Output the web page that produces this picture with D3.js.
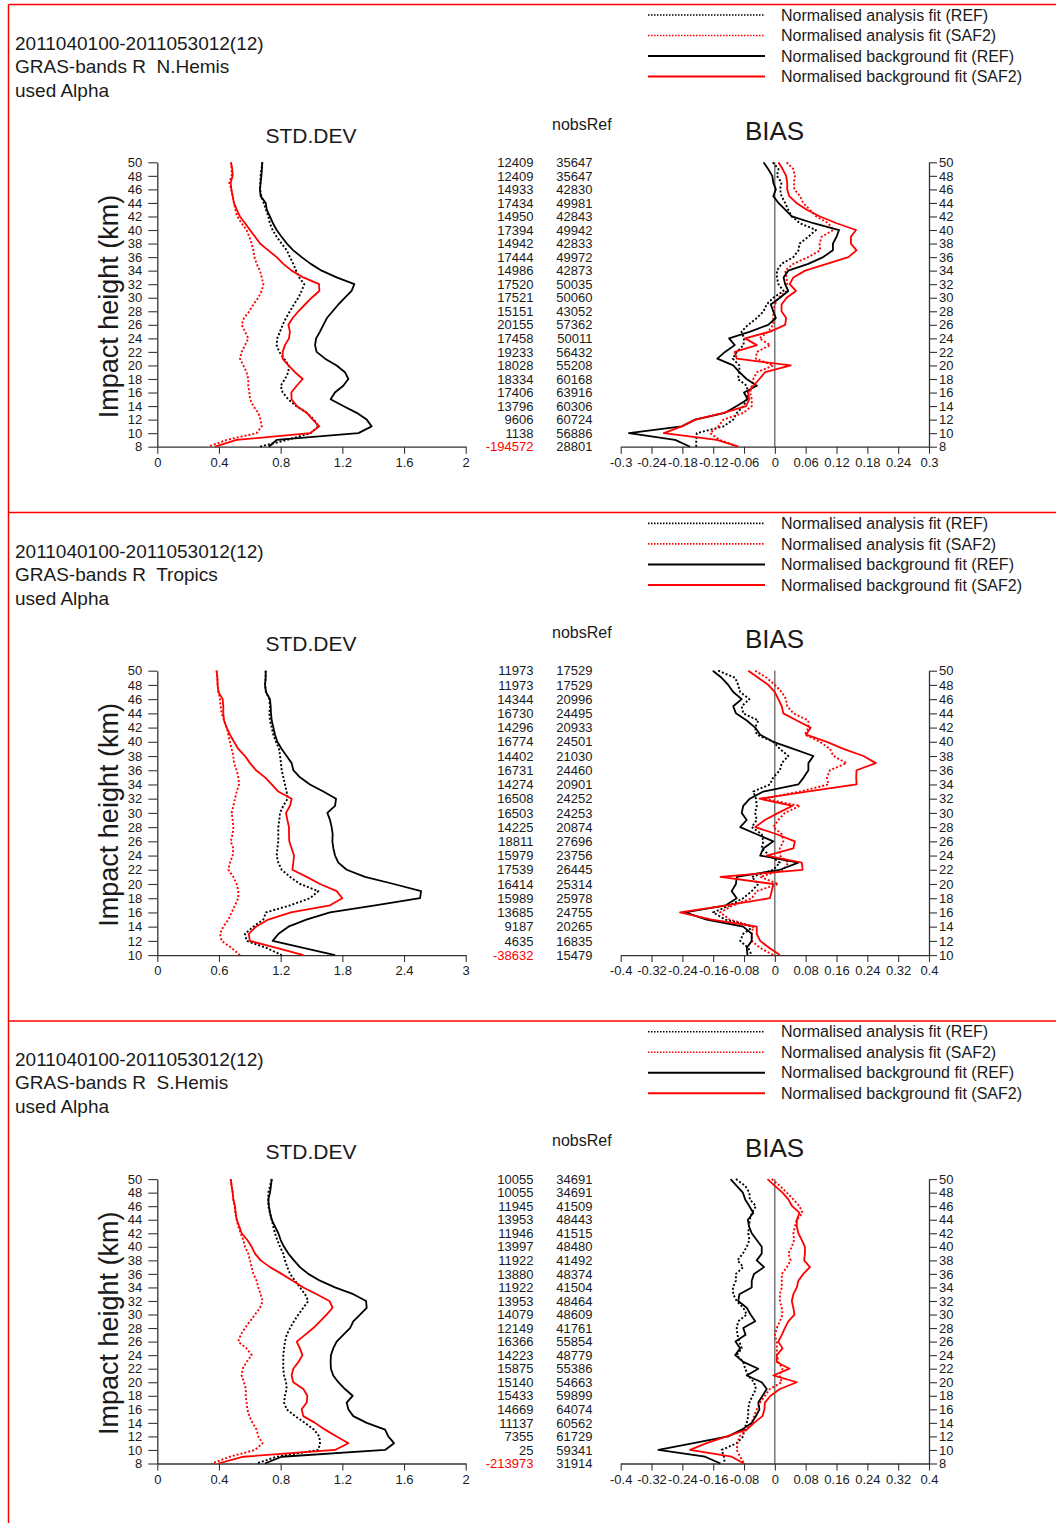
<!DOCTYPE html>
<html>
<head>
<meta charset="utf-8">
<script src="https://cdn.jsdelivr.net/npm/d3@7"></script>
<style>
  body { margin: 0; background: #fff; }
  svg { display: block; font-family: "Liberation Sans", Arial, Helvetica, sans-serif; }
</style>
</head>
<body>
<svg id="chart" width="1056" height="1523"></svg>
<script>
// ---------------------------------------------------------------
// Period, product and legend text
// ---------------------------------------------------------------
const periodLabel = "2011040100-2011053012(12)";
const productLabel = "GRAS-bands R";
const usedLabel = "used Alpha";
const regionNames = ["N.Hemis", "Tropics", "S.Hemis"];
const seriesNames = [
  "Normalised analysis fit (REF)",
  "Normalised analysis fit (SAF2)",
  "Normalised background fit (REF)",
  "Normalised background fit (SAF2)"
];

// ---------------------------------------------------------------
// Impact heights (km), 1 km steps from the top down
// ---------------------------------------------------------------
const levels8 = [50,49,48,47,46,45,44,43,42,41,40,39,38,37,36,35,34,33,32,31,30,29,28,27,26,25,24,23,22,21,20,19,18,17,16,15,14,13,12,11,10,9,8];
const levels10 = [50,49,48,47,46,45,44,43,42,41,40,39,38,37,36,35,34,33,32,31,30,29,28,27,26,25,24,23,22,21,20,19,18,17,16,15,14,13,12,11,10];

// Axis tick values
const heightTicks8 = [50,48,46,44,42,40,38,36,34,32,30,28,26,24,22,20,18,16,14,12,10,8];
const heightTicks10 = [50,48,46,44,42,40,38,36,34,32,30,28,26,24,22,20,18,16,14,12,10];
const stdTicks2 = [0, 0.4, 0.8, 1.2, 1.6, 2];
const stdTicks3 = [0, 0.6, 1.2, 1.8, 2.4, 3];
const biasTicks03 = [-0.3, -0.24, -0.18, -0.12, -0.06, 0, 0.06, 0.12, 0.18, 0.24, 0.3];
const biasTicks04 = [-0.4, -0.32, -0.24, -0.16, -0.08, 0, 0.08, 0.16, 0.24, 0.32, 0.4];

// ---------------------------------------------------------------
// N.Hemis
// ---------------------------------------------------------------
const nhStdAnRef = [0.681,0.676,0.670,0.668,0.666,0.675,0.690,0.705,0.720,0.730,0.748,0.774,0.806,0.840,0.860,0.882,0.900,0.920,0.953,0.936,0.915,0.886,0.860,0.835,0.813,0.796,0.778,0.774,0.791,0.822,0.854,0.850,0.828,0.800,0.813,0.850,0.900,0.969,1.016,1.044,0.995,0.840,0.666];
const nhStdAnSaf = [0.478,0.482,0.482,0.467,0.480,0.489,0.497,0.506,0.519,0.547,0.579,0.597,0.612,0.623,0.630,0.644,0.666,0.677,0.688,0.677,0.655,0.623,0.597,0.562,0.547,0.569,0.590,0.569,0.547,0.536,0.558,0.579,0.590,0.590,0.597,0.601,0.623,0.655,0.670,0.677,0.644,0.450,0.331];
const nhStdBgRef = [0.681,0.678,0.675,0.670,0.666,0.670,0.703,0.710,0.730,0.750,0.774,0.806,0.840,0.882,0.936,0.995,1.066,1.163,1.278,1.260,1.217,1.174,1.137,1.100,1.077,1.055,1.030,1.023,1.033,1.088,1.163,1.217,1.239,1.206,1.152,1.124,1.206,1.293,1.358,1.390,1.304,0.774,0.724];
const nhStdBgSaf = [0.478,0.486,0.489,0.476,0.480,0.489,0.497,0.515,0.536,0.569,0.601,0.634,0.666,0.720,0.774,0.817,0.871,0.947,1.049,1.051,1.001,0.958,0.915,0.878,0.850,0.860,0.854,0.828,0.813,0.813,0.850,0.893,0.943,0.904,0.869,0.871,0.904,0.969,1.008,1.051,0.990,0.515,0.374];

const nhBiasAnRef = [-0.004,0.007,0.004,0.013,0.010,0.013,0.020,0.026,0.033,0.049,0.080,0.065,0.048,0.046,0.036,0.013,0.004,0.004,0.007,0.017,-0.003,-0.016,-0.022,-0.035,-0.052,-0.065,-0.060,-0.061,-0.074,-0.082,-0.069,-0.069,-0.072,-0.055,-0.052,-0.055,-0.061,-0.074,-0.081,-0.100,-0.152,-0.153,-0.153];
const nhBiasAnSaf = [0.023,0.036,0.039,0.037,0.038,0.049,0.055,0.068,0.081,0.104,0.114,0.091,0.087,0.088,0.065,0.036,0.020,0.023,0.024,0.023,0.007,0.000,-0.003,-0.003,-0.003,-0.013,-0.030,-0.009,-0.035,-0.037,-0.003,-0.035,-0.042,-0.045,-0.048,-0.045,-0.045,-0.061,-0.100,-0.110,-0.126,-0.107,-0.071];
const nhBiasBgRef = [-0.022,-0.013,-0.005,-0.003,0.002,-0.003,0.007,0.020,0.033,0.075,0.125,0.120,0.113,0.113,0.094,0.065,0.026,0.017,0.020,0.026,0.010,-0.008,-0.003,0.002,-0.013,-0.048,-0.089,-0.078,-0.097,-0.112,-0.081,-0.069,-0.055,-0.035,-0.060,-0.053,-0.074,-0.097,-0.155,-0.181,-0.284,-0.194,-0.165];
const nhBiasBgSaf = [0.007,0.015,0.022,0.024,0.024,0.028,0.042,0.062,0.088,0.120,0.158,0.148,0.148,0.159,0.143,0.101,0.059,0.036,0.029,0.041,0.023,0.013,0.013,0.022,0.020,-0.009,-0.058,-0.035,-0.078,-0.074,0.031,-0.019,-0.030,-0.042,-0.052,-0.050,-0.056,-0.100,-0.155,-0.181,-0.216,-0.113,-0.071];

const nhNobs = [12409,12409,14933,17434,14950,17394,14942,17444,14986,17520,17521,15151,20155,17458,19233,18028,18334,17406,13796,9606,1138,-194572];
const nhNobsRef = [35647,35647,42830,49981,42843,49942,42833,49972,42873,50035,50060,43052,57362,50011,56432,55208,60168,63916,60306,60724,56886,28801];

// ---------------------------------------------------------------
// Tropics
// ---------------------------------------------------------------
const trStdAnRef = [1.054,1.054,1.048,1.057,1.090,1.096,1.090,1.096,1.113,1.129,1.155,1.184,1.194,1.203,1.210,1.226,1.242,1.258,1.268,1.226,1.194,1.187,1.177,1.177,1.177,1.168,1.161,1.177,1.210,1.291,1.388,1.567,1.486,1.291,1.057,1.031,0.934,0.853,0.869,1.064,1.210];
const trStdAnSaf = [0.577,0.584,0.587,0.597,0.610,0.616,0.626,0.649,0.675,0.691,0.707,0.723,0.740,0.746,0.772,0.788,0.795,0.772,0.756,0.740,0.723,0.733,0.740,0.733,0.714,0.740,0.733,0.707,0.691,0.740,0.772,0.788,0.788,0.756,0.723,0.691,0.642,0.610,0.626,0.723,0.804];
const trStdBgRef = [1.054,1.054,1.048,1.057,1.096,1.103,1.106,1.113,1.129,1.145,1.168,1.210,1.258,1.307,1.323,1.388,1.485,1.615,1.739,1.729,1.654,1.680,1.696,1.706,1.703,1.713,1.729,1.761,1.842,2.020,2.300,2.566,2.556,2.120,1.680,1.450,1.275,1.180,1.122,1.420,1.729];
const trStdBgSaf = [0.577,0.584,0.587,0.594,0.636,0.642,0.642,0.649,0.675,0.707,0.746,0.788,0.853,0.902,0.960,1.048,1.113,1.177,1.307,1.291,1.252,1.265,1.281,1.281,1.284,1.307,1.330,1.323,1.314,1.453,1.583,1.745,1.800,1.680,1.300,1.080,0.960,0.890,0.900,1.160,1.421];

const trBiasAnRef = [-0.147,-0.103,-0.095,-0.090,-0.066,-0.086,-0.082,-0.043,-0.051,-0.047,-0.004,0.013,0.035,0.018,0.013,-0.004,-0.013,-0.056,-0.049,-0.047,-0.051,-0.047,-0.060,-0.034,-0.030,-0.034,-0.013,0.013,-0.004,-0.060,-0.043,-0.060,-0.082,-0.117,-0.160,-0.129,-0.056,-0.082,-0.090,-0.069,-0.060];
const trBiasAnSaf = [-0.051,-0.021,0.000,0.018,0.029,0.032,0.048,0.087,0.087,0.078,0.117,0.143,0.152,0.186,0.143,0.135,0.139,0.065,-0.030,0.065,0.026,0.009,-0.004,0.018,0.022,0.013,0.013,0.035,0.022,-0.038,0.009,-0.047,-0.060,-0.108,-0.142,-0.117,-0.056,-0.060,-0.060,-0.038,-0.004];
const trBiasBgRef = [-0.161,-0.138,-0.121,-0.108,-0.086,-0.108,-0.101,-0.073,-0.051,-0.038,-0.004,0.048,0.100,0.087,0.087,0.075,0.061,-0.030,-0.065,-0.082,-0.086,-0.073,-0.090,-0.047,-0.004,-0.030,-0.038,0.061,0.013,-0.099,-0.101,-0.112,-0.099,-0.127,-0.233,-0.177,-0.082,-0.060,-0.060,-0.073,-0.071];
const trBiasBgSaf = [-0.069,-0.043,-0.017,0.000,0.009,0.018,0.022,0.057,0.093,0.081,0.135,0.178,0.230,0.262,0.212,0.211,0.212,0.083,-0.040,0.046,0.009,-0.026,-0.051,0.005,0.052,0.048,-0.021,0.070,0.072,-0.141,-0.004,-0.008,-0.013,-0.125,-0.246,-0.164,-0.047,-0.047,-0.038,-0.014,0.013];

const trNobs = [11973,11973,14344,16730,14296,16774,14402,16731,14274,16508,16503,14225,18811,15979,17539,16414,15989,13685,9187,4635,-38632];
const trNobsRef = [17529,17529,20996,24495,20933,24501,21030,24460,20901,24252,24253,20874,27696,23756,26445,25314,25978,24755,20265,16835,15479];

// ---------------------------------------------------------------
// S.Hemis
// ---------------------------------------------------------------
const shStdAnRef = [0.742,0.731,0.720,0.720,0.720,0.731,0.742,0.752,0.763,0.778,0.796,0.817,0.828,0.843,0.861,0.893,0.925,0.958,0.979,0.947,0.915,0.886,0.861,0.839,0.828,0.822,0.817,0.817,0.817,0.822,0.835,0.839,0.828,0.822,0.839,0.893,0.958,1.016,1.051,1.055,1.044,0.774,0.644];
const shStdAnSaf = [0.476,0.482,0.489,0.493,0.502,0.506,0.515,0.525,0.541,0.558,0.569,0.590,0.601,0.612,0.623,0.644,0.655,0.670,0.683,0.666,0.634,0.601,0.569,0.541,0.525,0.579,0.612,0.579,0.554,0.547,0.562,0.575,0.573,0.579,0.584,0.597,0.618,0.644,0.655,0.683,0.634,0.471,0.352];
const shStdBgRef = [0.742,0.737,0.731,0.720,0.724,0.731,0.742,0.763,0.785,0.800,0.822,0.850,0.886,0.925,0.979,1.055,1.152,1.271,1.354,1.358,1.315,1.271,1.250,1.206,1.163,1.141,1.126,1.124,1.126,1.141,1.174,1.217,1.267,1.228,1.239,1.271,1.358,1.477,1.498,1.535,1.477,0.806,0.698];
const shStdBgSaf = [0.476,0.482,0.489,0.493,0.504,0.508,0.515,0.532,0.547,0.584,0.612,0.634,0.670,0.731,0.806,0.878,0.947,1.034,1.116,1.137,1.098,1.055,1.012,0.958,0.904,0.925,0.941,0.915,0.882,0.871,0.882,0.947,0.973,0.969,0.936,0.947,1.023,1.088,1.163,1.239,1.152,0.558,0.396];

const shBiasAnRef = [-0.101,-0.077,-0.066,-0.065,-0.049,-0.060,-0.065,-0.067,-0.069,-0.066,-0.073,-0.083,-0.097,-0.082,-0.101,-0.101,-0.109,-0.108,-0.099,-0.082,-0.073,-0.095,-0.099,-0.097,-0.092,-0.086,-0.099,-0.082,-0.077,-0.069,-0.054,-0.049,-0.058,-0.066,-0.069,-0.069,-0.073,-0.080,-0.082,-0.099,-0.138,-0.132,-0.130];
const shBiasAnSaf = [-0.008,0.013,0.031,0.048,0.064,0.072,0.057,0.052,0.048,0.050,0.044,0.035,0.041,0.031,0.018,0.018,0.018,0.013,0.013,0.018,0.020,0.013,0.005,0.000,0.005,0.005,0.006,0.009,0.020,0.012,0.018,-0.013,-0.026,-0.038,-0.047,-0.054,-0.060,-0.073,-0.092,-0.097,-0.099,-0.090,-0.080];
const shBiasBgRef = [-0.115,-0.099,-0.083,-0.077,-0.066,-0.056,-0.070,-0.067,-0.060,-0.047,-0.034,-0.034,-0.047,-0.028,-0.054,-0.060,-0.060,-0.092,-0.095,-0.073,-0.063,-0.051,-0.082,-0.076,-0.102,-0.090,-0.103,-0.082,-0.043,-0.073,-0.034,-0.021,-0.032,-0.043,-0.040,-0.049,-0.060,-0.086,-0.121,-0.211,-0.302,-0.181,-0.141];
const shBiasBgSaf = [-0.019,0.000,0.020,0.035,0.045,0.064,0.057,0.057,0.061,0.070,0.078,0.078,0.076,0.091,0.074,0.061,0.057,0.048,0.044,0.048,0.051,0.035,0.026,0.018,0.009,0.020,0.005,0.005,0.038,-0.004,0.057,0.013,-0.011,-0.026,-0.027,-0.032,-0.054,-0.073,-0.125,-0.177,-0.220,-0.112,-0.080];

const shNobs = [10055,10055,11945,13953,11946,13997,11922,13880,11922,13953,14079,12149,16366,14223,15875,15140,15433,14669,11137,7355,25,-213973];
const shNobsRef = [34691,34691,41509,48443,41515,48480,41492,48374,41504,48464,48609,41761,55854,48779,55386,54663,59899,64074,60562,61729,59341,31914];

// ---------------------------------------------------------------
// Drawing
// ---------------------------------------------------------------
const RED = "#ff0000";
const AXIS = "#333";
const TEXT = "#1a1a1a";

// stroke style per series: analysis = dotted, background = solid
const seriesStyle = [
  { color: "#000", dash: "2,2" },
  { color: RED,    dash: "2,2" },
  { color: "#000", dash: null },
  { color: RED,    dash: null }
];

const panels = [
  { region: regionNames[0], levels: levels8, hTicks: heightTicks8,
    std: [nhStdAnRef, nhStdAnSaf, nhStdBgRef, nhStdBgSaf],
    bias: [nhBiasAnRef, nhBiasAnSaf, nhBiasBgRef, nhBiasBgSaf],
    stdTicks: stdTicks2, biasTicks: biasTicks03, nobs: nhNobs, nobsRef: nhNobsRef },
  { region: regionNames[1], levels: levels10, hTicks: heightTicks10,
    std: [trStdAnRef, trStdAnSaf, trStdBgRef, trStdBgSaf],
    bias: [trBiasAnRef, trBiasAnSaf, trBiasBgRef, trBiasBgSaf],
    stdTicks: stdTicks3, biasTicks: biasTicks04, nobs: trNobs, nobsRef: trNobsRef },
  { region: regionNames[2], levels: levels8, hTicks: heightTicks8,
    std: [shStdAnRef, shStdAnSaf, shStdBgRef, shStdBgSaf],
    bias: [shBiasAnRef, shBiasAnSaf, shBiasBgRef, shBiasBgSaf],
    stdTicks: stdTicks2, biasTicks: biasTicks04, nobs: shNobs, nobsRef: shNobsRef }
];

const svg = d3.select("#chart");
const W = 1056, H = 1523;
const PANEL_STEP = 508.4;
const FRAME_TOPS = [4.5, 512.5, 1021];
const FRAME_LEFT = 8.5;

// red panel frame
svg.append("line").attr("x1", FRAME_LEFT).attr("x2", FRAME_LEFT)
  .attr("y1", FRAME_TOPS[0]).attr("y2", H)
  .attr("stroke", RED).attr("stroke-width", 1.5);
FRAME_TOPS.forEach(t => {
  svg.append("line").attr("x1", FRAME_LEFT).attr("x2", W)
    .attr("y1", t).attr("y2", t)
    .attr("stroke", RED).attr("stroke-width", 1.5);
});

const fmt = v => String(+v.toFixed(2));

function styleAxis(g) {
  g.select(".domain").attr("stroke", AXIS).attr("stroke-width", 1.3);
  g.selectAll(".tick line").attr("stroke", AXIS).attr("stroke-width", 1.1);
  g.selectAll(".tick text").attr("fill", TEXT)
    .style("font-size", "13px")
    .style("font-family", '"Liberation Sans", Arial, sans-serif');
}

panels.forEach((p, i) => {
  const top = i * PANEL_STEP;
  const g = svg.append("g").attr("class", "panel");

  // heading
  const head = g.append("g").attr("fill", TEXT)
    .style("font-size", "19px");
  [periodLabel, productLabel + "  " + p.region, usedLabel].forEach((t, k) => {
    head.append("text").attr("x", 15).attr("y", top + [49.5, 72.5, 96.5][k])
      .attr("xml:space", "preserve").style("white-space", "pre").text(t);
  });

  // legend
  const leg = g.append("g");
  seriesNames.forEach((name, k) => {
    const y = top + [15, 35.5, 56, 76.5][k];
    const st = seriesStyle[k];
    leg.append("line").attr("x1", 648).attr("x2", 765).attr("y1", y).attr("y2", y)
      .attr("stroke", st.color).attr("stroke-width", st.dash ? 1.6 : 2)
      .attr("stroke-dasharray", st.dash ? "1.5,1.5" : null);
    leg.append("text").attr("x", 781).attr("y", y + 5.6)
      .attr("fill", TEXT).style("font-size", "16px").text(name);
  });

  const yMin = d3.min(p.levels);
  const y = d3.scaleLinear().domain([yMin, 50]).range([top + 446.7, top + 162.3]);
  const xStd = d3.scaleLinear().domain(d3.extent(p.stdTicks)).range([157.3, 465.7]);
  const xBias = d3.scaleLinear().domain(d3.extent(p.biasTicks)).range([620.7, 929]);

  // titles
  g.append("text").attr("x", 311).attr("y", top + 142.5).attr("text-anchor", "middle")
    .attr("fill", TEXT).style("font-size", "21px").text("STD.DEV");
  g.append("text").attr("x", 774.5).attr("y", top + 140).attr("text-anchor", "middle")
    .attr("fill", TEXT).style("font-size", "26px").text("BIAS");
  g.append("text").attr("x", 552).attr("y", top + 129.5)
    .attr("fill", TEXT).style("font-size", "16px").text("nobsRef");

  // vertical axis title
  g.append("text")
    .attr("transform", `translate(110,${top + 306.5}) rotate(-90)`)
    .attr("text-anchor", "middle").attr("dy", "0.3em")
    .attr("fill", TEXT).style("font-size", "27px").text("Impact height (km)");

  // STD.DEV axes
  g.append("g").attr("transform", `translate(${xStd.range()[0]},0)`)
    .call(d3.axisLeft(y).tickValues(p.hTicks).tickSize(9).tickPadding(6).tickSizeOuter(0))
    .call(styleAxis);
  g.append("g").attr("transform", `translate(0,${y(yMin)})`)
    .call(d3.axisBottom(xStd).tickValues(p.stdTicks).tickSize(7).tickPadding(4)
      .tickSizeOuter(0).tickFormat(fmt))
    .call(styleAxis);

  // BIAS axes
  g.append("g").attr("transform", `translate(${xBias.range()[1]},0)`)
    .call(d3.axisRight(y).tickValues(p.hTicks).tickSize(8).tickPadding(2).tickSizeOuter(0))
    .call(styleAxis);
  g.append("g").attr("transform", `translate(0,${y(yMin)})`)
    .call(d3.axisBottom(xBias).tickValues(p.biasTicks).tickSize(7).tickPadding(4)
      .tickSizeOuter(0).tickFormat(fmt))
    .call(styleAxis);
  g.append("line").attr("x1", xBias(0)).attr("x2", xBias(0))
    .attr("y1", y(50)).attr("y2", y(yMin))
    .attr("stroke", AXIS).attr("stroke-width", 1);

  // observation counts
  const nobsG = g.append("g").style("font-size", "13px").attr("text-anchor", "end");
  p.hTicks.forEach((lev, k) => {
    const v = p.nobs[k];
    nobsG.append("text").attr("x", 533.5).attr("y", y(lev)).attr("dy", "0.36em")
      .attr("fill", v < 0 ? RED : TEXT).text(v);
    nobsG.append("text").attr("x", 592.5).attr("y", y(lev)).attr("dy", "0.36em")
      .attr("fill", TEXT).text(p.nobsRef[k]);
  });

  // profiles
  const drawProfiles = (sets, x) => {
    sets.forEach((vals, k) => {
      const st = seriesStyle[k];
      const line = d3.line().x(d => x(d)).y((d, j) => y(p.levels[j]));
      g.append("path").datum(vals).attr("d", line)
        .attr("fill", "none").attr("stroke", st.color)
        .attr("stroke-width", st.dash ? 1.9 : 1.8)
        .attr("stroke-linejoin", "round")
        .attr("stroke-dasharray", st.dash);
    });
  };
  drawProfiles(p.std, xStd);
  drawProfiles(p.bias, xBias);
});
</script>
</body>
</html>
